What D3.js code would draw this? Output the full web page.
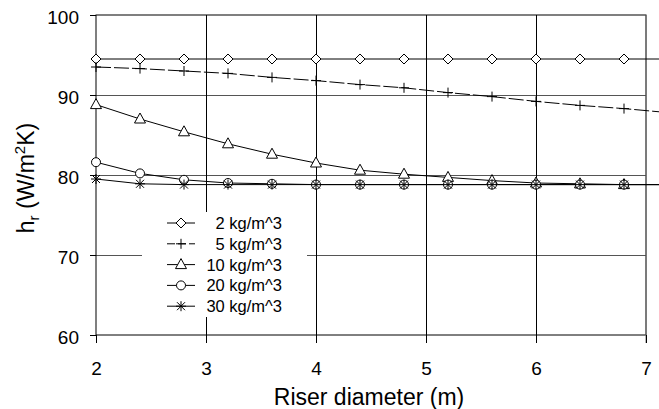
<!DOCTYPE html>
<html>
<head>
<meta charset="utf-8">
<script src="https://cdn.jsdelivr.net/npm/d3@7"></script>
<style>
  body { margin: 0; background: #fff; }
  svg { display: block; font-family: "Liberation Sans", Arial, sans-serif; }
</style>
</head>
<body>
<div id="chart"></div>
<script>
// riser diameter (m); last point has no visible marker, line runs off the edge
const diameters = [2, 2.4, 2.8, 3.2, 3.6, 4.0, 4.4, 4.8, 5.2, 5.6, 6.0, 6.4, 6.8, 7.2];

const hr2 = [94.5, 94.5, 94.5, 94.5, 94.5, 94.5, 94.5, 94.5, 94.5, 94.5, 94.5, 94.5, 94.5, 94.5];
const hr5 = [93.5, 93.3, 93.0, 92.7, 92.2, 91.8, 91.3, 90.9, 90.3, 89.8, 89.2, 88.7, 88.3, 87.8];
const hr10 = [88.8, 87.0, 85.4, 83.9, 82.6, 81.5, 80.6, 80.1, 79.7, 79.3, 79.0, 78.9, 78.8, 78.8];
const hr20 = [81.6, 80.2, 79.4, 79.0, 78.9, 78.8, 78.8, 78.8, 78.8, 78.8, 78.8, 78.8, 78.8, 78.8];
const hr30 = [79.5, 78.9, 78.8, 78.8, 78.8, 78.8, 78.8, 78.8, 78.8, 78.8, 78.8, 78.8, 78.8, 78.8];

const seriesNames = ['2 kg/m^3', '5 kg/m^3', '10 kg/m^3', '20 kg/m^3', '30 kg/m^3'];
const seriesValues = [hr2, hr5, hr10, hr20, hr30];
const seriesSymbols = ['diamond', 'plus', 'triangle', 'circle', 'asterisk'];

const xTicks = [2, 3, 4, 5, 6, 7];
const yTicks = [60, 70, 80, 90, 100];

const W = 659, H = 409;
const margin = { top: 15, right: 13, bottom: 74, left: 96 };
const width = W - margin.left - margin.right;
const height = H - margin.top - margin.bottom;

const x = d3.scaleLinear().domain([2, 7]).range([0, width]);
const y = d3.scaleLinear().domain([60, 100]).range([height, 0]);

const svg = d3.select('#chart').append('svg')
    .attr('width', W)
    .attr('height', H);

const g = svg.append('g')
    .attr('transform', `translate(${margin.left},${margin.top})`);

// horizontal grid (grey)
g.append('g')
    .call(d3.axisLeft(y).tickValues(yTicks.slice(1, -1)).tickSize(-width).tickFormat(''))
    .call(s => s.select('.domain').remove())
    .selectAll('line').attr('stroke', '#555');

// vertical grid (black)
g.append('g')
    .attr('transform', `translate(0,${height})`)
    .call(d3.axisBottom(x).tickValues(xTicks.slice(1, -1)).tickSize(height).tickFormat(''))
    .call(s => s.select('.domain').remove())
    .selectAll('line').attr('stroke', '#000').attr('transform', `translate(0,${-height})`);

// frame
g.append('rect')
    .attr('width', width).attr('height', height)
    .attr('fill', 'none').attr('stroke', '#000');
g.append('line')
    .attr('x1', width).attr('x2', width).attr('y1', 0).attr('y2', height + 8)
    .attr('stroke', '#777');

// axes
const yAxis = g.append('g')
    .call(d3.axisLeft(y).tickValues(yTicks).tickSize(6).tickPadding(11))
    .call(s => s.select('.domain').remove());
yAxis.selectAll('text').attr('font-size', 19).attr('fill', '#000').attr('dy', '0.45em')
    .attr('font-family', '"Liberation Sans", Arial, sans-serif');

const xAxis = g.append('g')
    .attr('transform', `translate(0,${height})`)
    .call(d3.axisBottom(x).tickValues(xTicks).tickSize(8).tickPadding(19).tickFormat(d3.format('d')))
    .call(s => s.select('.domain').remove());
xAxis.selectAll('text').attr('font-size', 19).attr('fill', '#000')
    .attr('font-family', '"Liberation Sans", Arial, sans-serif');

// axis titles
svg.append('text')
    .attr('x', 369)
    .attr('y', 405)
    .attr('text-anchor', 'middle')
    .attr('font-size', 23)
    .text('Riser diameter (m)');

const yTitle = svg.append('text')
    .attr('transform', 'translate(34,178) rotate(-90)')
    .attr('text-anchor', 'middle')
    .attr('font-size', 23);
yTitle.append('tspan').text('h');
yTitle.append('tspan').attr('font-size', 15).attr('dy', 5).text('r');
yTitle.append('tspan').attr('dy', -5).text(' (W/m');
yTitle.append('tspan').attr('font-size', 15).attr('dy', -9).text('2');
yTitle.append('tspan').attr('dy', 9).text('K)');

// marker drawing
function drawMarker(sel, type) {
    if (type === 'diamond') {
        sel.append('path').attr('d', 'M0,-5L5,0L0,5L-5,0Z')
            .attr('fill', '#fff').attr('stroke', '#000');
    } else if (type === 'triangle') {
        sel.append('path').attr('d', 'M0,-6L5.5,4L-5.5,4Z')
            .attr('fill', '#fff').attr('stroke', '#000');
    } else if (type === 'circle') {
        sel.append('circle').attr('r', 4.5)
            .attr('fill', '#fff').attr('stroke', '#000');
    } else if (type === 'plus') {
        sel.append('path').attr('d', 'M-5,0H5M0,-5V5')
            .attr('fill', 'none').attr('stroke', '#000');
    } else if (type === 'asterisk') {
        sel.append('path').attr('d', 'M-5,0H5M0,-5V5M-4,-4L4,4M-4,4L4,-4')
            .attr('fill', 'none').attr('stroke', '#000');
    }
}

const line = d3.line()
    .x((d, i) => x(diameters[i]))
    .y(d => y(d));

seriesValues.forEach((vals, k) => {
    g.append('path')
        .datum(vals)
        .attr('fill', 'none')
        .attr('stroke', '#000')
        .attr('stroke-width', 1)
        .attr('stroke-dasharray', k === 1 ? '15,3' : null)
        .attr('d', line);
});

seriesValues.forEach((vals, k) => {
    g.selectAll(null)
        .data(vals)
        .enter()
        .append('g')
        .attr('transform', (d, i) => `translate(${x(diameters[i])},${y(d)})`)
        .each(function () { drawMarker(d3.select(this), seriesSymbols[k]); });
});

// legend
const legend = svg.append('g').attr('transform', 'translate(142,212)');
legend.append('rect')
    .attr('width', 165).attr('height', 105)
    .attr('fill', '#fff');

seriesNames.forEach((name, k) => {
    const row = legend.append('g').attr('transform', `translate(0,${11 + k * 20.8})`);
    row.append('line')
        .attr('x1', 25).attr('x2', 53)
        .attr('stroke', '#000')
        .attr('stroke-dasharray', k === 1 ? '8,3' : null);
    drawMarker(row.append('g').attr('transform', 'translate(39,0)'), seriesSymbols[k]);
    row.append('text')
        .attr('x', 140)
        .attr('y', 6)
        .attr('text-anchor', 'end')
        .attr('font-size', 16.5)
        .text(name);
});
</script>
</body>
</html>
